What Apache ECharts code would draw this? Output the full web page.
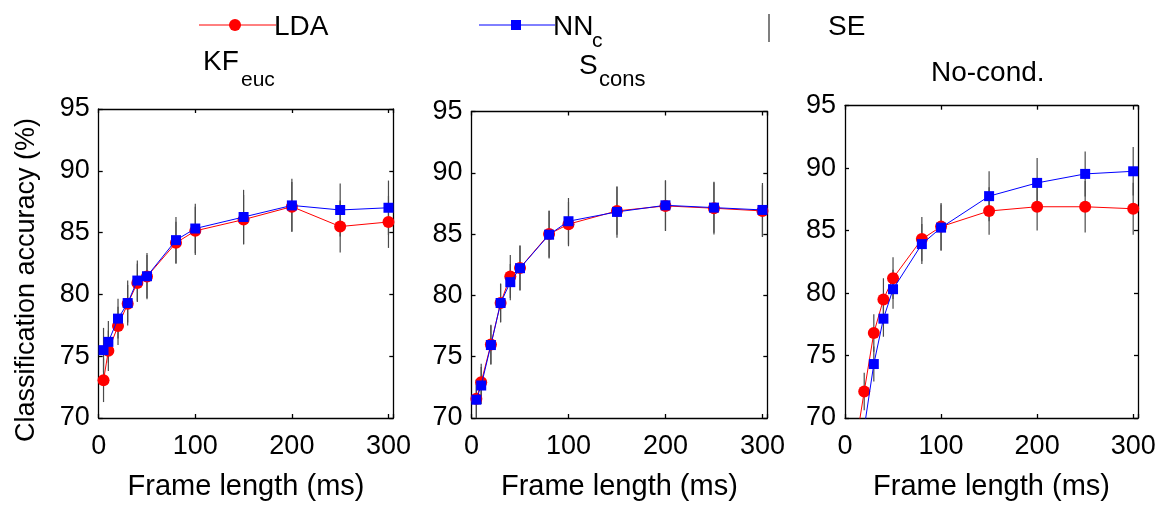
<!DOCTYPE html>
<html>
<head>
<meta charset="utf-8">
<script src="https://cdn.jsdelivr.net/npm/echarts@6/dist/echarts.min.js"></script>
<style>
html,body{margin:0;padding:0;background:#fff;}
#c{width:1166px;height:506px;}
</style>
</head>
<body>
<div id="c"></div>
<script>
// ---- data ----
const frames = [5, 10, 20, 30, 40, 50, 80, 100, 150, 200, 250, 300];
const xTicks = [0, 100, 200, 300];
const yTicks = [70, 75, 80, 85, 90, 95];

// KF_euc panel
const kfLDA   = [73.05, 75.44, 77.45, 79.24, 80.93, 81.44, 84.17, 85.14, 86.05, 87.10, 85.49, 85.86];
const kfNN    = [75.49, 76.16, 78.04, 79.30, 81.12, 81.47, 84.39, 85.33, 86.26, 87.20, 86.83, 87.01];
const kfLDAse = [1.76, 1.64, 1.55, 1.52, 1.55, 1.74, 1.70, 1.95, 2.00, 2.00, 2.10, 2.10];
const kfNNse  = [1.80, 1.69, 1.60, 1.82, 1.63, 1.87, 1.87, 2.00, 2.20, 2.15, 2.14, 2.20];

// S_cons panel
const scLDA   = [71.57, 72.92, 76.00, 79.38, 81.54, 82.24, 85.00, 85.81, 86.89, 87.30, 87.11, 86.89];
const scNN    = [71.49, 72.65, 75.95, 79.38, 81.08, 82.22, 84.95, 86.05, 86.81, 87.35, 87.16, 86.97];
const scLDAse = [1.60, 1.50, 1.60, 1.60, 1.76, 1.85, 1.90, 1.80, 1.95, 2.05, 2.15, 2.10];
const scNNse  = [1.60, 1.50, 1.60, 1.55, 1.48, 1.80, 1.95, 1.90, 2.10, 2.05, 2.05, 2.20];

// No-cond. panel
const ncLDA   = [62.50, 67.30, 72.12, 76.81, 79.49, 81.19, 84.32, 85.32, 86.57, 86.91, 86.91, 86.75];
const ncNN    = [58.00, 63.50, 69.20, 74.32, 77.95, 80.31, 83.92, 85.24, 87.76, 88.82, 89.54, 89.75];
const ncLDAse = [1.50, 1.50, 1.50, 1.50, 1.70, 1.67, 1.77, 1.90, 1.90, 1.90, 2.06, 2.09];
const ncNNse  = [1.50, 1.50, 0.70, 1.40, 1.45, 1.56, 1.60, 1.85, 2.00, 2.00, 1.80, 1.94];

const panelTitles = ['KF', 'S', 'No-cond.'];
const panelSubs = ['euc', 'cons', ''];
const legendNames = ['LDA', 'NN', 'SE'];
const yName = 'Classification accuracy (%)';
const xName = 'Frame length (ms)';

// ---- layout ----
const FONT = 'Liberation Sans, Arial, Helvetica, sans-serif';
const grids = [
  {left: 98.7, top: 109, width: 294.6, height: 311},
  {left: 471.5, top: 111.5, width: 295.8, height: 308.5},
  {left: 845, top: 105.7, width: 293, height: 314.3}
];
const panels = [
  {lda: kfLDA, nn: kfNN, ldaSe: kfLDAse, nnSe: kfNNse},
  {lda: scLDA, nn: scNN, ldaSe: scLDAse, nnSe: scNNse},
  {lda: ncLDA, nn: ncNN, ldaSe: ncLDAse, nnSe: ncNNse}
];

const xAxes = [], yAxes = [], series = [];
const axisLineStyle = {color: '#000', width: 1.3};
grids.forEach((g, i) => {
  xAxes.push({
    type: 'value', gridIndex: i, position: 'bottom', min: 0, max: 305, interval: 100,
    axisLine: {show: true, lineStyle: axisLineStyle, onZero: false},
    axisTick: {show: true, inside: true, length: 4, lineStyle: axisLineStyle},
    axisLabel: {show: true, fontFamily: FONT, fontSize: 27, color: '#000', margin: 15,
      formatter: v => (xTicks.indexOf(v) >= 0 ? String(v) : '')},
    splitLine: {show: false},
    name: xName, nameLocation: 'middle', nameGap: 54,
    nameTextStyle: {fontFamily: FONT, fontSize: 29, color: '#000'}
  });
  xAxes.push({
    type: 'value', gridIndex: i, position: 'top', min: 0, max: 305, interval: 100,
    axisLine: {show: true, lineStyle: axisLineStyle, onZero: false},
    axisTick: {show: true, inside: true, length: 4, lineStyle: axisLineStyle},
    axisLabel: {show: false}, splitLine: {show: false}
  });
  yAxes.push({
    type: 'value', gridIndex: i, position: 'left', min: 70, max: 95, interval: 5,
    axisLine: {show: true, lineStyle: axisLineStyle, onZero: false},
    axisTick: {show: true, inside: true, length: 4, lineStyle: axisLineStyle},
    axisLabel: {show: true, fontFamily: FONT, fontSize: 27, color: '#000', margin: 9,
      formatter: v => (yTicks.indexOf(v) >= 0 ? String(v) : '')},
    splitLine: {show: false}
  });
  yAxes.push({
    type: 'value', gridIndex: i, position: 'right', min: 70, max: 95, interval: 5,
    axisLine: {show: true, lineStyle: axisLineStyle, onZero: false},
    axisTick: {show: true, inside: true, length: 4, lineStyle: axisLineStyle},
    axisLabel: {show: false}, splitLine: {show: false}
  });

  const p = panels[i];
  const errData = (vals, se) => frames.map((f, k) => [f, vals[k] - se[k], vals[k] + se[k]]);
  const errSeries = (vals, se) => ({
    type: 'custom', xAxisIndex: 2 * i, yAxisIndex: 2 * i, clip: true, z: 1,
    data: errData(vals, se),
    renderItem: (params, api) => {
      const a = api.coord([api.value(0), api.value(1)]);
      const b = api.coord([api.value(0), api.value(2)]);
      return {type: 'line', shape: {x1: a[0], y1: a[1], x2: b[0], y2: b[1]},
        style: {stroke: '#4a4a4a', lineWidth: 1.2}};
    }
  });
  series.push(errSeries(p.lda, p.ldaSe));
  series.push(errSeries(p.nn, p.nnSe));
  series.push({
    type: 'line', xAxisIndex: 2 * i, yAxisIndex: 2 * i, clip: true, z: 2,
    data: frames.map((f, k) => [f, p.lda[k]]),
    symbol: 'circle', symbolSize: 12, showAllSymbol: true,
    lineStyle: {color: '#ff0000', width: 1},
    itemStyle: {color: '#ff0000'},
    animation: false
  });
  series.push({
    type: 'line', xAxisIndex: 2 * i, yAxisIndex: 2 * i, clip: true, z: 3,
    data: frames.map((f, k) => [f, p.nn[k]]),
    symbol: 'rect', symbolSize: 10, showAllSymbol: true,
    lineStyle: {color: '#0000ff', width: 1},
    itemStyle: {color: '#0000ff'},
    animation: false
  });
});

const txt = (x, y, text, size, extra) => ({
  type: 'text', x: x, y: y, silent: true,
  style: Object.assign({text: text, fontFamily: FONT, fontSize: size, fill: '#000',
    align: 'left', verticalAlign: 'middle'}, extra || {})
});

const graphics = [
  // legend
  {type: 'line', shape: {x1: 199, y1: 25, x2: 276, y2: 25}, style: {stroke: '#ff0000', lineWidth: 1}},
  {type: 'circle', shape: {cx: 235, cy: 25, r: 6}, style: {fill: '#ff0000'}},
  txt(274, 27, legendNames[0], 28),
  {type: 'line', shape: {x1: 479, y1: 25, x2: 555, y2: 25}, style: {stroke: '#0000ff', lineWidth: 1}},
  {type: 'rect', shape: {x: 511, y: 20, width: 10, height: 10}, style: {fill: '#0000ff'}},
  txt(553, 27, legendNames[1], 28),
  txt(592, 41, 'c', 21),
  {type: 'line', shape: {x1: 769, y1: 14, x2: 769, y2: 42}, style: {stroke: '#555', lineWidth: 1.5}},
  txt(828, 27, legendNames[2], 28),
  // panel titles
  txt(203, 62, panelTitles[0], 28),
  txt(241, 80, panelSubs[0], 21),
  txt(579, 66, panelTitles[1], 28),
  txt(599, 80, panelSubs[1], 22),
  txt(931, 73, panelTitles[2], 28),
  // y axis name
  {type: 'text', x: 27, y: 280, rotation: Math.PI / 2, silent: true,
    style: {text: yName, fontFamily: FONT, fontSize: 27, fill: '#000', align: 'center', verticalAlign: 'middle'}}
];

const chart = echarts.init(document.getElementById('c'), null, {renderer: 'canvas'});
chart.setOption({
  backgroundColor: '#fff',
  animation: false,
  grid: grids.map(g => Object.assign({containLabel: false}, g)),
  xAxis: xAxes,
  yAxis: yAxes,
  series: series,
  graphic: graphics
});
</script>
</body>
</html>
